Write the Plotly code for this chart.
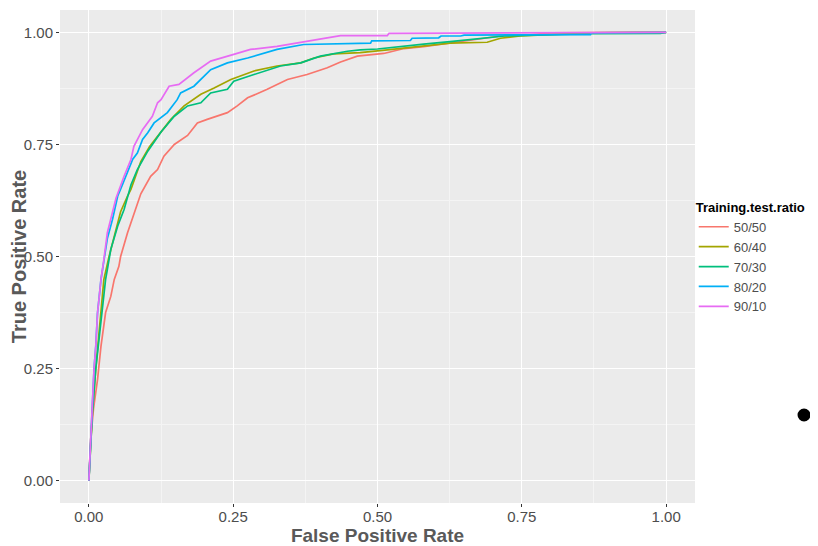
import plotly.graph_objects as go

series_names = ["50/50", "60/40", "70/30", "80/20", "90/10"]
series_colors = ["#F8766D", "#A3A500", "#00BF7D", "#00B0F6", "#E76BF3"]

fpr_50_50 = [0, 0.003, 0.008, 0.015, 0.021, 0.029, 0.038, 0.044, 0.052, 0.055, 0.067, 0.073, 0.090, 0.107,
             0.119, 0.130, 0.142, 0.148, 0.171, 0.188, 0.205, 0.240, 0.257, 0.275, 0.309, 0.344, 0.378,
             0.413, 0.436, 0.465, 0.511, 0.546, 0.580, 0.621, 0.667, 0.713, 0.760, 0.800, 0.940, 1.0]
tpr_50_50 = [0, 0.09, 0.16, 0.225, 0.300, 0.375, 0.411, 0.449, 0.478, 0.500, 0.553, 0.575, 0.640, 0.679,
             0.694, 0.724, 0.742, 0.750, 0.770, 0.798, 0.806, 0.821, 0.836, 0.854, 0.873, 0.895, 0.906,
             0.921, 0.934, 0.947, 0.953, 0.964, 0.968, 0.975, 0.984, 0.992, 0.994, 0.999, 1.0, 1.0]

fpr_60_40 = [0, 0.003, 0.006, 0.012, 0.018, 0.024, 0.026, 0.035, 0.044, 0.055, 0.067, 0.073, 0.090, 0.105,
             0.119, 0.142, 0.165, 0.194, 0.217, 0.246, 0.286, 0.326, 0.367, 0.390, 0.424, 0.470, 0.517,
             0.552, 0.597, 0.626, 0.690, 0.713, 0.747, 0.805, 0.869, 1.0]
tpr_60_40 = [0, 0.09, 0.15, 0.25, 0.33, 0.411, 0.449, 0.500, 0.545, 0.600, 0.635, 0.650, 0.712, 0.745,
             0.768, 0.806, 0.836, 0.862, 0.876, 0.895, 0.914, 0.925, 0.932, 0.943, 0.952, 0.955, 0.961,
             0.966, 0.971, 0.976, 0.978, 0.987, 0.992, 0.995, 0.999, 1.0]

fpr_70_30 = [0, 0.003, 0.006, 0.012, 0.018, 0.026, 0.029, 0.032, 0.038, 0.050, 0.061, 0.073, 0.084, 0.102,
             0.125, 0.148, 0.171, 0.194, 0.211, 0.240, 0.251, 0.286, 0.332, 0.367, 0.401, 0.448, 0.470,
             0.500, 0.540, 0.580, 0.630, 0.680, 0.720, 0.800, 0.870, 0.990, 1.0]
tpr_70_30 = [0, 0.09, 0.15, 0.25, 0.322, 0.411, 0.449, 0.471, 0.516, 0.568, 0.605, 0.660, 0.694, 0.735,
             0.778, 0.813, 0.836, 0.843, 0.865, 0.873, 0.891, 0.906, 0.925, 0.932, 0.947, 0.958, 0.961,
             0.963, 0.969, 0.974, 0.980, 0.986, 0.992, 0.995, 0.997, 0.998, 1.0]

fpr_80_20 = [0, 0.003, 0.006, 0.009, 0.012, 0.015, 0.018, 0.021, 0.026, 0.032, 0.041, 0.050, 0.055, 0.067,
             0.076, 0.084, 0.093, 0.102, 0.113, 0.136, 0.153, 0.159, 0.182, 0.211, 0.240, 0.275, 0.326,
             0.372, 0.436, 0.488, 0.490, 0.557, 0.560, 0.606, 0.610, 0.644, 0.650, 0.869, 0.870, 1.0]
tpr_80_20 = [0, 0.09, 0.16, 0.25, 0.30, 0.374, 0.411, 0.449, 0.490, 0.540, 0.583, 0.635, 0.650, 0.687,
             0.717, 0.731, 0.761, 0.776, 0.798, 0.821, 0.850, 0.865, 0.880, 0.917, 0.932, 0.943, 0.962,
             0.973, 0.975, 0.976, 0.981, 0.982, 0.987, 0.988, 0.992, 0.992, 0.994, 0.995, 0.999, 1.0]

fpr_90_10 = [0, 0.003, 0.006, 0.009, 0.012, 0.015, 0.018, 0.021, 0.026, 0.032, 0.047, 0.058, 0.061, 0.073,
             0.078, 0.093, 0.110, 0.119, 0.125, 0.139, 0.156, 0.182, 0.211, 0.251, 0.280, 0.326, 0.367,
             0.400, 0.436, 0.517, 0.520, 0.980, 1.0]
tpr_90_10 = [0, 0.10, 0.17, 0.25, 0.30, 0.374, 0.411, 0.449, 0.493, 0.553, 0.630, 0.672, 0.679, 0.717,
             0.746, 0.783, 0.813, 0.843, 0.850, 0.880, 0.884, 0.910, 0.936, 0.951, 0.962, 0.969, 0.977,
             0.985, 0.993, 0.993, 0.998, 0.999, 1.0]

series_fpr = [fpr_50_50, fpr_60_40, fpr_70_30, fpr_80_20, fpr_90_10]
series_tpr = [tpr_50_50, tpr_60_40, tpr_70_30, tpr_80_20, tpr_90_10]

tick_vals = [0, 0.25, 0.5, 0.75, 1.0]
tick_text = ["0.00", "0.25", "0.50", "0.75", "1.00"]

REG = "Liberation Sans, Arial, sans-serif"

fig = go.Figure()
for name, color, xs, ys in zip(series_names, series_colors, series_fpr, series_tpr):
    fig.add_trace(go.Scatter(x=xs, y=ys, mode="lines", name=name,
                             line=dict(color=color, width=1.7)))

axis_common = dict(
    range=[-0.05, 1.05], tickvals=tick_vals, ticktext=tick_text,
    showgrid=True, gridcolor="#FFFFFF", gridwidth=1.3, zeroline=False,
    ticks="outside", ticklen=3, tickcolor="#333333", tickwidth=1,
    tickfont=dict(family=REG, size=15, color="#4D4D4D"),
    minor=dict(dtick=0.125, tick0=0.125, showgrid=True, gridcolor="#F4F4F4", gridwidth=0.7, ticks=""),
    showline=False, automargin=False,
)

# page body has an 8px margin, so the figure is sized to fill the 818x546 window from that offset
fig.update_layout(
    width=810, height=538,
    margin=dict(l=52, r=123, t=2, b=43),
    paper_bgcolor="#FFFFFF", plot_bgcolor="#EBEBEB",
    xaxis=dict(axis_common, ticklabelstandoff=-3,
               title=dict(text="<b>False Positive Rate</b>",
                          font=dict(family=REG, size=19, color="#595959"))),
    yaxis=dict(axis_common, title=dict(text="<b>True Positive Rate</b>",
                                       font=dict(family=REG, size=20, color="#595959"), standoff=0)),
    legend=dict(
        title=dict(text="<b>Training.test.ratio</b>", font=dict(family=REG, size=13, color="#000000")),
        font=dict(family=REG, size=13, color="#4D4D4D"),
        x=0.998, xanchor="left", y=0.625, yanchor="top",
        bgcolor="rgba(0,0,0,0)", itemwidth=30, tracegroupgap=0,
    ),
    showlegend=True,
)

fig.add_shape(type="circle", xref="paper", yref="paper",
              xsizemode="pixel", ysizemode="pixel",
              xanchor=1.1717, yanchor=0.1785,
              x0=-6.5, x1=6.5, y0=-6.5, y1=6.5,
              fillcolor="#000000", line=dict(color="#000000", width=0))

fig.write_html("out.html")
